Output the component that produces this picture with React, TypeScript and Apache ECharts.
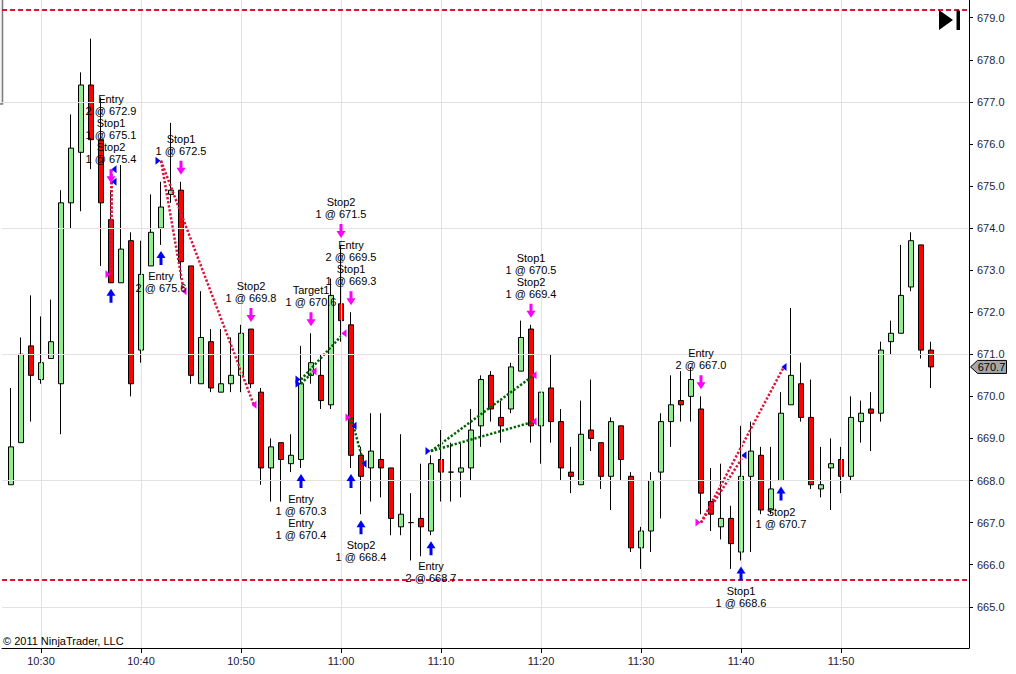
import React, { useEffect, useRef } from "react";
import * as echarts from "echarts";

// ---- candle data (1-minute bars) ----
const times = [
  "10:27","10:28","10:29","10:30","10:31","10:32","10:33","10:34","10:35","10:36",
  "10:37","10:38","10:39","10:40","10:41","10:42","10:43","10:44","10:45","10:46",
  "10:47","10:48","10:49","10:50","10:51","10:52","10:53","10:54","10:55","10:56",
  "10:57","10:58","10:59","11:00","11:01","11:02","11:03","11:04","11:05","11:06",
  "11:07","11:08","11:09","11:10","11:11","11:12","11:13","11:14","11:15","11:16",
  "11:17","11:18","11:19","11:20","11:21","11:22","11:23","11:24","11:25","11:26",
  "11:27","11:28","11:29","11:30","11:31","11:32","11:33","11:34","11:35","11:36",
  "11:37","11:38","11:39","11:40","11:41","11:42","11:43","11:44","11:45","11:46",
  "11:47","11:48","11:49","11:50","11:51","11:52","11:53","11:54","11:55","11:56",
  "11:57","11:58","11:59"
];
const opens = [
  667.9,668.9,671.2,670.4,670.9,670.3,674.6,675.8,677.4,676.1,
  674.2,672.7,673.7,671.1,673.1,674.0,674.8,674.9,673.1,670.3,
  671.3,670.1,670.3,670.5,671.6,670.1,668.3,668.9,668.4,668.5,
  670.5,670.5,669.8,672.2,671.7,668.6,668.3,668.5,668.3,666.9,
  667.0,667.1,666.8,668.5,668.2,668.2,668.3,669.3,670.5,669.5,
  669.7,670.6,671.6,669.3,670.2,669.4,668.2,667.9,669.2,668.9,
  668.1,669.3,668.1,666.4,666.8,668.2,669.4,669.9,670.0,669.7,
  667.5,666.9,667.1,666.3,668.1,668.6,667.3,668.0,669.8,670.3,
  669.5,667.8,668.3,668.5,668.1,669.4,669.7,669.6,671.3,671.5,
  672.6,673.6,671.1
];
const highs = [
  670.2,671.4,672.4,671.9,672.3,674.9,676.7,677.7,678.5,677.1,
  674.9,675.5,673.9,673.7,674.8,675.1,676.5,675.1,673.1,672.5,
  671.6,671.6,671.4,671.7,671.6,670.2,669.0,668.9,669.1,671.2,
  671.5,671.0,672.8,673.6,672.0,668.8,669.6,669.6,668.3,669.1,
  667.7,668.4,668.6,669.2,668.9,668.9,669.7,670.5,670.6,669.9,
  670.8,671.8,671.7,670.1,671.0,669.7,668.8,669.9,670.4,668.9,
  669.5,669.3,668.2,666.9,668.2,669.6,670.5,670.6,670.7,670.0,
  668.3,668.4,667.4,669.3,669.4,668.8,668.8,670.1,672.1,670.8,
  670.4,668.8,669.0,668.8,670.0,669.9,670.1,671.3,671.8,673.6,
  673.9,673.6,671.3
];
const lows = [
  667.9,668.9,669.4,670.3,670.9,669.1,674.0,674.4,675.4,673.1,
  672.7,672.7,670.0,670.8,673.1,673.6,674.6,672.8,670.3,670.3,
  670.1,670.1,670.1,670.1,670.2,667.9,667.5,667.5,668.2,668.3,
  670.3,669.7,669.7,671.3,668.3,667.2,667.5,667.6,666.7,666.7,
  666.1,666.2,666.7,667.5,667.5,667.6,668.0,668.8,669.4,668.9,
  669.6,670.6,668.9,668.4,668.9,668.0,667.7,667.9,668.7,667.8,
  667.3,668.0,666.3,665.9,666.3,667.1,668.8,669.4,669.4,667.2,
  666.8,666.6,665.9,666.1,666.3,667.2,667.2,668.0,669.8,669.4,
  667.8,667.6,667.3,667.7,668.0,668.9,668.7,669.4,671.0,671.5,
  672.5,670.9,670.2
];
const closes = [
  668.8,671.0,670.5,670.8,671.3,674.6,675.9,677.4,676.1,674.6,
  672.7,673.5,670.3,672.9,673.9,674.5,674.9,673.2,670.5,671.4,
  670.2,670.3,670.5,671.5,670.3,668.3,668.8,668.5,668.6,670.3,
  670.8,669.9,672.4,671.8,668.6,668.1,668.7,668.3,667.1,667.2,
  667.0,666.9,668.4,668.2,668.2,668.3,669.2,670.4,669.7,669.3,
  670.7,671.4,669.3,670.1,669.4,668.3,668.1,669.1,669.0,668.1,
  669.4,668.5,666.4,666.8,668.0,669.4,669.8,669.8,670.4,667.7,
  667.2,667.1,666.5,668.1,668.7,667.3,667.8,669.6,670.5,669.5,
  667.9,667.9,668.4,668.1,669.5,669.6,669.6,671.1,671.5,672.4,
  673.7,671.1,670.7
];

// ---- axes ----
const priceTicks = [665,666,667,668,669,670,671,672,673,674,675,676,677,678,679];
const gridPrices = [665, 668, 671, 674, 677];
const timeTicks = ["10:30","10:40","10:50","11:00","11:10","11:20","11:30","11:40","11:50"];
const dashedLevels = [679.2, 665.65];

// ---- executions ----
const execTimes = ["10:37","10:37","10:37","10:42","10:44","10:51","10:56","10:56","10:57","11:00","11:01","11:01","11:02","11:09","11:19","11:19","11:36","11:40","11:44"];
const execSides = ["sell","buy","buy","buy","sell","sell","buy","buy","sell","sell","sell","buy","buy","buy","sell","sell","sell","buy","buy"];
const execNames = ["Entry","Stop1","Stop2","Entry","Stop1","Stop2","Entry","Entry","Target1","Stop2","Entry","Stop1","Stop2","Entry","Stop1","Stop2","Entry","Stop1","Stop2"];
const execQty = [2,1,1,2,1,1,1,1,1,1,2,1,1,2,1,1,2,1,1];
const execPrices = [672.9,675.1,675.4,675.6,672.5,669.8,670.3,670.4,670.6,671.5,669.5,669.3,668.4,668.7,670.5,669.4,667.0,668.6,670.7];
const tradeLinks = [[0,1],[0,2],[3,4],[3,5],[6,8],[7,9],[10,11],[10,12],[13,14],[13,15],[16,17],[16,18]];

const toMin = (s: string) => {
  const [h, m] = s.split(":").map(Number);
  return h * 60 + m - 600;
};
const fmtMin = (v: number) => {
  const h = Math.floor(v / 60) + 10;
  const m = Math.round(v % 60);
  return `${h}:${String(m).padStart(2, "0")}`;
};

const X_MIN = 26.1;
const X_MAX = 122.8;
const Y_MIN = 664.02;
const Y_MAX = 679.42;
const FONT = '"Liberation Sans", Arial, sans-serif';
const PINK = "#FF00FF";
const BLUE = "#0000FF";

const DOWN_ARROW = "path://M3,0 L6,0 L6,7 L9,7 L4.5,14 L0,7 L3,7 Z";
const UP_ARROW = "path://M4.5,0 L9,7 L6,7 L6,14 L3,14 L3,7 L0,7 Z";
const TRI_RIGHT = "path://M0,0 L5,4 L0,8 Z";
const TRI_LEFT = "path://M5,0 L0,4 L5,8 Z";

export default function App() {
  const ref = useRef<HTMLDivElement>(null);

  useEffect(() => {
    const el = ref.current;
    if (!el) return;
    const chart = echarts.init(el, undefined, { renderer: "svg" });

    const candleData = times.map((t, i) => [toMin(t), opens[i], closes[i], lows[i], highs[i]]);

    const isEntry = execNames.map((n) => n === "Entry");

    const triData = (wantEntry: boolean) =>
      execTimes
        .map((t, i) => ({ t, i }))
        .filter(({ i }) => isEntry[i] === wantEntry)
        .map(({ t, i }) => ({
          value: [toMin(t), execPrices[i]],
          itemStyle: { color: execSides[i] === "buy" ? BLUE : PINK, opacity: 1 },
        }));

    const bars = Array.from(new Set(execTimes));
    const sellArrows: any[] = [];
    const buyArrows: any[] = [];
    bars.forEach((bt) => {
      const bi = times.indexOf(bt);
      const idx = execTimes.map((t, i) => (t === bt ? i : -1)).filter((i) => i >= 0);
      const text = idx.map((i) => `${execNames[i]}\n${execQty[i]} @ ${execPrices[i].toFixed(1)}`).join("\n");
      const hasSell = idx.some((i) => execSides[i] === "sell");
      const hasBuy = idx.some((i) => execSides[i] === "buy");
      if (hasSell) {
        sellArrows.push({
          value: [toMin(bt), highs[bi]],
          label: { show: true, position: "top", distance: 4, formatter: text },
        });
      }
      if (hasBuy) {
        buyArrows.push({
          value: [toMin(bt), lows[bi]],
          label: { show: !hasSell, position: "bottom", distance: 5, formatter: text },
        });
      }
    });

    const linkData = tradeLinks.map(([e, x]) => {
      const long = execSides[e] === "buy";
      const pnl = long ? execPrices[x] - execPrices[e] : execPrices[e] - execPrices[x];
      const te = toMin(execTimes[e]);
      const tx = toMin(execTimes[x]);
      return {
        coords: [
          [te, execPrices[e]],
          [tx + (tx !== te ? 0.28 : 0), execPrices[x]],
        ],
        lineStyle: { color: pnl > 0 ? "#006400" : "#DC143C" },
      };
    });

    const labelStyle = {
      color: "#000",
      opacity: 1,
      fontSize: 11,
      fontFamily: FONT,
      lineHeight: 12,
      align: "center",
      textBorderWidth: 0,
    };

    const option: any = {
      animation: false,
      backgroundColor: "#ffffff",
      grid: { left: 2, right: 47, top: 0, bottom: 26, containLabel: false, outerBoundsMode: "none" },
      xAxis: {
        type: "value",
        min: X_MIN,
        max: X_MAX,
        axisLine: { show: true, lineStyle: { color: "#000", width: 1 } },
        axisTick: { show: true, length: 5, lineStyle: { color: "#000" }, customValues: timeTicks.map(toMin) },
        axisLabel: {
          customValues: timeTicks.map(toMin),
          formatter: (v: number) => (v > 115 ? "" : fmtMin(v)),
          color: "#22203e",
          fontSize: 11,
          fontFamily: FONT,
          margin: 7,
        },
        splitLine: { show: false },
      },
      yAxis: {
        type: "value",
        position: "right",
        min: Y_MIN,
        max: Y_MAX,
        axisLine: { show: true, lineStyle: { color: "#000", width: 1 } },
        axisTick: { show: true, length: 4, lineStyle: { color: "#000" }, customValues: priceTicks },
        axisLabel: {
          customValues: priceTicks,
          formatter: (v: number) => v.toFixed(1),
          color: "#1e1e3c",
          fontSize: 11,
          fontFamily: FONT,
          margin: 8,
        },
        splitLine: { show: false },
      },
      series: [
        {
          type: "line",
          data: [],
          z: 1,
          silent: true,
          markLine: {
            silent: true,
            symbol: "none",
            label: { show: false },
            lineStyle: { color: "#e2e2e2", width: 1, type: "solid" },
            emphasis: { disabled: true },
            data: [
              ...gridPrices.map((p) => ({ yAxis: p })),
              ...timeTicks.map((t) => ({ xAxis: toMin(t) })),
            ],
          },
        },
        {
          type: "candlestick",
          data: candleData,
          barWidth: 5,
          z: 2,
          itemStyle: {
            color: "#90EE90",
            color0: "#FF0000",
            borderColor: "#000",
            borderColor0: "#000",
            borderColorDoji: "#000",
            borderWidth: 1,
          },
          markLine: {
            silent: true,
            symbol: "none",
            label: { show: false },
            lineStyle: { color: "#DC143C", width: 2, type: [5, 3] },
            emphasis: { disabled: true },
            data: dashedLevels.map((p) => ({ yAxis: p })),
          },
        },
        {
          type: "lines",
          coordinateSystem: "cartesian2d",
          z: 3,
          silent: true,
          lineStyle: { width: 2.5, type: [2.3, 1.8], opacity: 1 },
          data: linkData,
        },
        {
          type: "scatter",
          z: 4,
          silent: true,
          symbol: TRI_RIGHT,
          symbolSize: [5, 8],
          symbolOffset: [-3, 0],
          itemStyle: { opacity: 1 },
          data: triData(true),
        },
        {
          type: "scatter",
          z: 4,
          silent: true,
          symbol: TRI_LEFT,
          symbolSize: [5, 8],
          symbolOffset: [3, 0],
          itemStyle: { opacity: 1 },
          data: triData(false),
        },
        {
          type: "scatter",
          z: 5,
          silent: true,
          symbol: DOWN_ARROW,
          symbolSize: [9, 14],
          symbolOffset: [0, -14],
          itemStyle: { color: PINK, opacity: 1 },
          label: labelStyle,
          data: sellArrows,
        },
        {
          type: "scatter",
          z: 5,
          silent: true,
          symbol: UP_ARROW,
          symbolSize: [9, 14],
          symbolOffset: [0, 13],
          itemStyle: { color: BLUE, opacity: 1 },
          label: labelStyle,
          data: buyArrows,
        },
      ],
    };

    chart.setOption(option);

    const lastClose = closes[closes.length - 1];
    const py = chart.convertToPixel({ yAxisIndex: 0 }, lastClose) as number;
    const px = chart.convertToPixel({ xAxisIndex: 0 }, X_MAX) as number;

    chart.setOption({
      graphic: [
        {
          type: "rect",
          shape: { x: -2, y: -2, width: 4.5, height: 106 },
          style: { fill: "#f4f4f4", stroke: "#7a7a7a", lineWidth: 1.5 },
          z: 0,
        },
        {
          type: "polygon",
          shape: { points: [[939, 10], [953, 20], [939, 30]] },
          style: { fill: "#000" },
          z: 10,
        },
        {
          type: "rect",
          shape: { x: 956.5, y: 10.5, width: 3.5, height: 19.5 },
          style: { fill: "#000" },
          z: 10,
        },
        {
          type: "text",
          x: 3,
          y: 641,
          style: {
            text: "© 2011 NinjaTrader, LLC",
            font: `11px ${FONT}`,
            fill: "#000",
            verticalAlign: "middle",
          },
          z: 10,
        },
        {
          type: "group",
          x: px + 1.5,
          y: py,
          z: 10,
          children: [
            {
              type: "polygon",
              shape: { points: [[0, 0], [7, -6.5], [36, -6.5], [36, 6.5], [7, 6.5]] },
              style: { fill: "#a6a6a6", stroke: "#000", lineWidth: 1 },
              z: 10,
            },
            {
              type: "text",
              x: 21,
              y: 0.5,
              style: {
                text: lastClose.toFixed(1),
                font: `11px ${FONT}`,
                fill: "#000",
                align: "center",
                verticalAlign: "middle",
              },
              z: 11,
            },
          ],
        },
      ],
    });

    return () => chart.dispose();
  }, []);

  return (
    <div
      ref={ref}
      style={{ position: "fixed", left: 0, top: 0, width: 1016, height: 674, background: "#fff" }}
    />
  );
}
